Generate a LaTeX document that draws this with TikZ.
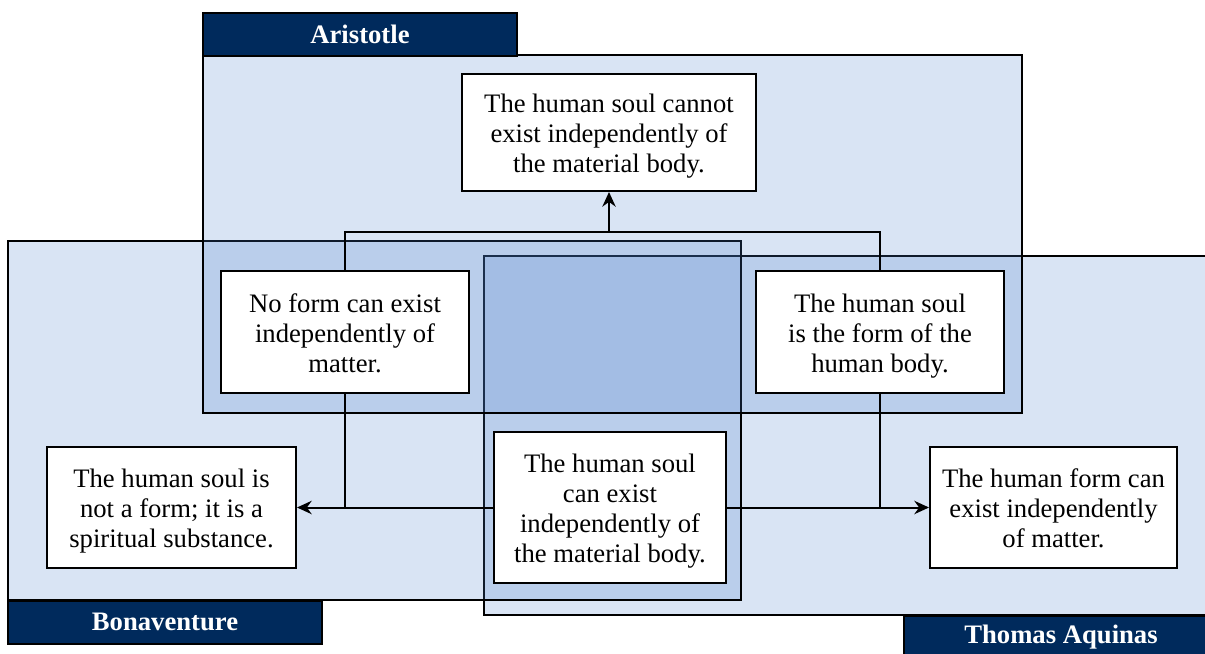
\documentclass[tikz,border=0pt]{standalone}
\usepackage{fontspec}
\setmainfont{Liberation Serif}
\usetikzlibrary{arrows.meta, positioning, calc}

\definecolor{zone}{RGB}{74,126,203}
\definecolor{navy}{RGB}{0,42,92}

% struts so that every claim is centred on full line boxes
\newcommand{\tallstrut}{\rule{0pt}{20pt}}
\newcommand{\deepstrut}{\rule[-5pt]{0pt}{5pt}}

\begin{document}
\begin{tikzpicture}[
      x=0.75pt, y=-0.75pt,
      region/.style={draw, line width=1.5pt, fill=zone, fill opacity=0.21},
      tab/.style={rectangle, draw, line width=1.5pt, fill=navy, text=white, inner sep=0pt,
        minimum width=235.5pt, minimum height=32.25pt, font=\fontsize{20pt}{24pt}\selectfont\bfseries},
      claim/.style={rectangle, draw, line width=1.5pt, fill=white, align=center, inner sep=0pt,
        minimum width=186pt, minimum height=91pt, font=\fontsize{20pt}{22.5pt}\selectfont},
      link/.style={line width=1.5pt},
      arrow/.style={-{Stealth[length=11pt, width=10pt]}, line width=1.5pt}
    ]
    \useasboundingbox (0,0) rectangle (1205,653);
    \clip (0,0) rectangle (1205,653);

    % the three schools, back to front
    \draw[region] (484,256) rectangle (1215,615);
    \draw[region] (8,241) rectangle (741,600);
    \draw[region] (203,55) rectangle (1022,413);

    \node[tab] (tabA) at (360,34.5) {Aristotle};
    \node[tab] (tabB) at (165,622) {Bonaventure};
    \node[tab] (tabT) at (1061,637) {Thomas Aquinas};

    % claims
    \node[claim, minimum width=220.5pt, minimum height=87.75pt] (concl) at (609,132.5)
      {\tallstrut The human soul cannot\\exist independently of\\the material body.\deepstrut};
    \node[claim] (prem1) at (345,332)
      {\tallstrut No form can exist\\independently of\\matter.\deepstrut};
    \node[claim] (prem2) at (880,332)
      {\tallstrut The human soul\\is the form of the\\human body.\deepstrut};
    \node[claim, minimum width=186.75pt] (bonav) at (171.5,507.5)
      {\tallstrut The human soul is\\not a form; it is a\\spiritual substance.\deepstrut};
    \node[claim, minimum width=174pt, minimum height=113.25pt] (sep) at (610,507.5)
      {\tallstrut The human soul\\can exist\\independently of\\the material body.\deepstrut};
    \node[claim, minimum width=185.25pt] (thom) at (1053.5,507.5)
      {\tallstrut The human form can\\exist independently\\of matter.\deepstrut};

    % Aristotle's argument
    \coordinate (join) at (609,232);
    \draw[link] (prem1.north) |- (join) -| (prem2.north);
    \draw[arrow] (join) -- (concl.south);

    % the two other conclusions
    \draw[arrow] (sep.west) -- (bonav.east);
    \draw[link] (prem1.south) -- (prem1.south |- bonav.east);
    \draw[arrow] (sep.east) -- (thom.west);
    \draw[link] (prem2.south) -- (prem2.south |- thom.west);
  \end{tikzpicture}
\end{document}
